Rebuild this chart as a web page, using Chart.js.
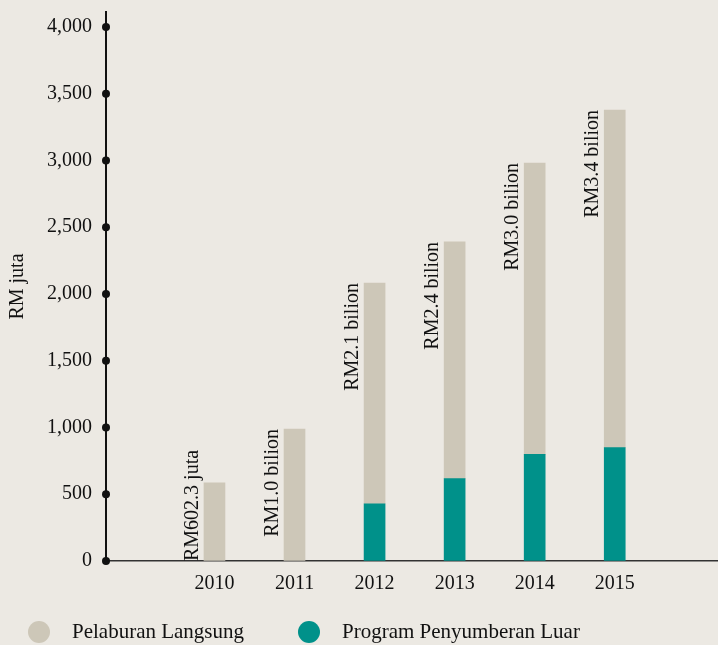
<!DOCTYPE html>
<html>
<head>
<meta charset="utf-8">
<script src="https://cdn.jsdelivr.net/npm/chart.js@4"></script>
<style>
  body { margin: 0; background: #ECE9E3; }
  #wrap { width: 718px; height: 645px; position: relative; }
</style>
</head>
<body>
<div id="wrap"><canvas id="chart1"></canvas></div>
<script>
const years = [2010, 2011, 2012, 2013, 2014, 2015];
// RM juta
const pelaburanLangsung = [585, 989, 1653, 1773, 2182, 2529];
const programPenyumberan = [0, 0, 429, 617, 799, 849];
const totalLabels = ['RM602.3 juta', 'RM1.0 bilion', 'RM2.1 bilion', 'RM2.4 bilion', 'RM3.0 bilion', 'RM3.4 bilion'];
const yTicks = [0, 500, 1000, 1500, 2000, 2500, 3000, 3500, 4000];

const FONT = '"Liberation Serif", "DejaVu Serif", serif';
const BEIGE = '#CDC7B8';
const TEAL = '#00918A';

renderChart();

function renderChart() {
  const ctx1 = document.getElementById('chart1');

  const extras = {
    id: 'extras',
    afterDatasetsDraw(chart) {
      const c = chart.ctx;
      const area = chart.chartArea;
      const y = chart.scales.y;

      // dots on the y axis
      c.save();
      c.fillStyle = '#111';
      yTicks.forEach(v => {
        c.beginPath();
        c.arc(area.left, y.getPixelForValue(v), 4, 0, Math.PI * 2);
        c.fill();
      });

      // vertical total labels next to each bar
      const meta = chart.getDatasetMeta(1);
      c.font = '20px ' + FONT;
      c.fillStyle = '#111';
      c.textAlign = 'right';
      c.textBaseline = 'alphabetic';
      years.forEach((yr, i) => {
        const bar = meta.data[i];
        const total = pelaburanLangsung[i] + programPenyumberan[i];
        const w = c.measureText(totalLabels[i]).width;
        const topY = Math.min(y.getPixelForValue(total), area.bottom - w);
        const x = bar.x - bar.width / 2 - 6;
        c.save();
        c.translate(x, topY);
        c.rotate(-Math.PI / 2);
        c.fillText(totalLabels[i], 0, 0);
        c.restore();
      });

      // legend
      const items = [
        { text: 'Pelaburan Langsung', color: BEIGE, x: 39 },
        { text: 'Program Penyumberan Luar', color: TEAL, x: 309 }
      ];
      c.textAlign = 'left';
      c.textBaseline = 'middle';
      c.font = '21px ' + FONT;
      items.forEach(it => {
        c.fillStyle = it.color;
        c.beginPath();
        c.arc(it.x, 632, 11, 0, Math.PI * 2);
        c.fill();
        c.fillStyle = '#111';
        c.fillText(it.text, it.x + 33, 632);
      });
      c.restore();
    }
  };

  new Chart(ctx1, {
    type: 'bar',
    data: {
      datasets: [{
        label: 'Program Penyumberan Luar',
        data: years.map((yr, i) => ({ x: yr, y: programPenyumberan[i] || null })),
        backgroundColor: TEAL,
        barThickness: 21
      }, {
        label: 'Pelaburan Langsung',
        data: years.map((yr, i) => ({ x: yr, y: pelaburanLangsung[i] })),
        backgroundColor: BEIGE,
        barThickness: 21
      }]
    },
    options: {
      responsive: true,
      maintainAspectRatio: false,
      animation: false,
      layout: { padding: { top: 12, left: 0, right: 0, bottom: 0 } },
      plugins: {
        legend: { display: false },
        tooltip: { enabled: false }
      },
      scales: {
        x: {
          type: 'linear',
          stacked: true,
          offset: false,
          min: 2008.645,
          max: 2016.29,
          afterBuildTicks: s => { s.ticks = years.map(v => ({ value: v })); },
          afterFit: s => { s.height = 84; s.paddingLeft = 0; s.paddingRight = 0; },
          grid: { color: 'transparent', drawTicks: false },
          border: { display: true, color: '#333', width: 1.5 },
          ticks: {
            color: '#111',
            font: { family: FONT, size: 20 },
            padding: 11,
            callback: v => String(v)
          }
        },
        y: {
          stacked: true,
          min: 0,
          max: 4112,
          afterBuildTicks: s => { s.ticks = yTicks.map(v => ({ value: v })); },
          afterFit: s => { s.width = 106; s.paddingTop = 0; s.paddingBottom = 0; },
          grid: { color: 'transparent', drawTicks: false },
          border: { display: true, color: '#111', width: 2 },
          title: {
            display: true,
            text: 'RM juta',
            color: '#111',
            font: { family: FONT, size: 20 },
            padding: { top: 6, bottom: 0 }
          },
          ticks: {
            color: '#111',
            font: { family: FONT, size: 20 },
            padding: 14,
            callback: v => v.toLocaleString('en-US')
          }
        }
      }
    },
    plugins: [extras]
  });
}
</script>
</body>
</html>
